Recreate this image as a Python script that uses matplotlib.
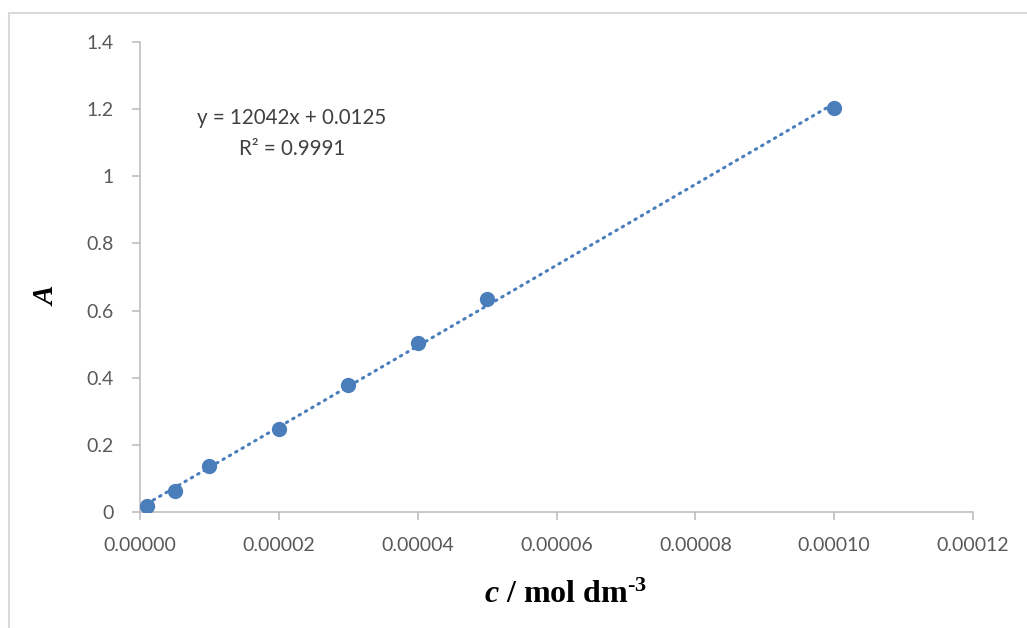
"""Calibration curve: absorbance vs concentration, Excel-style scatter with trendline."""
import matplotlib
matplotlib.use("Agg")
import matplotlib.pyplot as plt
from matplotlib.patches import Rectangle
import numpy as np

# Data
conc = [0.000001, 0.000005, 0.00001, 0.00002, 0.00003, 0.00004, 0.00005, 0.0001]
absorb = [0.018, 0.062, 0.136, 0.246, 0.378, 0.503, 0.634, 1.203]
x_ticks = [0.0, 0.00002, 0.00004, 0.00006, 0.00008, 0.00010, 0.00012]
y_ticks = [0, 0.2, 0.4, 0.6, 0.8, 1.0, 1.2, 1.4]
y_tick_labels = ["0", "0.2", "0.4", "0.6", "0.8", "1", "1.2", "1.4"]
slope, intercept, r2 = 12042, 0.0125, 0.9991

_BLUE = "#4a7ebb"
_AXIS = "#bfbfbf"
_TICK_TEXT = "#595959"
_SANS = ["Lato", "DejaVu Sans"]
_SERIF = ["Liberation Serif", "DejaVu Serif"]

plt.rcParams["mathtext.fontset"] = "custom"
plt.rcParams["mathtext.rm"] = "Liberation Serif:bold"
plt.rcParams["mathtext.it"] = "Liberation Serif:bold:italic"
plt.rcParams["mathtext.bf"] = "Liberation Serif:bold"

fig = plt.figure(figsize=(10.27, 6.28), dpi=100)
ax = fig.add_axes([140 / 1027, 1 - 512 / 628, (973 - 140) / 1027, (512 - 42) / 628])

# chart-area border (runs off the right and bottom edges)
fig.patches.append(Rectangle((8.5 / 1027, -0.05), 1.1, 1 - 12.5 / 628 + 0.05,
                             transform=fig.transFigure, fill=False,
                             edgecolor="#d9d9d9", linewidth=1.5))

# trendline over the data range
xs = np.array([min(conc), max(conc)])
ax.plot(xs, slope * xs + intercept, color=_BLUE, linewidth=2.2,
        linestyle=(0, (0.5, 1.9)), dash_capstyle="round", zorder=2)
ax.plot(conc, absorb, "o", color=_BLUE, markersize=11, zorder=3,
        markeredgewidth=0)

ax.set_xlim(0, 0.00012)
ax.set_ylim(0, 1.4)
ax.set_xticks(x_ticks)
ax.set_xticklabels([f"{v:.5f}" for v in x_ticks], family=_SANS,
                   fontsize=14, color=_TICK_TEXT)
ax.set_yticks(y_ticks)
ax.set_yticklabels(y_tick_labels, family=_SANS, fontsize=14, color=_TICK_TEXT)
ax.tick_params(axis="both", direction="out", length=6, width=1.2, color=_AXIS)
ax.tick_params(axis="x", pad=12)
ax.tick_params(axis="y", pad=13)

for side in ("top", "right"):
    ax.spines[side].set_visible(False)
for side in ("left", "bottom"):
    ax.spines[side].set_color(_AXIS)
    ax.spines[side].set_linewidth(1.2)

ax.text(292 / 1027, 1 - 118 / 628, f"y = {slope}x + {intercept}",
        transform=fig.transFigure, ha="center", va="center",
        family=_SANS, fontsize=14.8, color="#404040")
ax.text(292 / 1027, 1 - 149 / 628, f"R² = {r2}",
        transform=fig.transFigure, ha="center", va="center",
        family=_SANS, fontsize=14.8, color="#404040")

fig.text(47 / 1027, 1 - 296 / 628, "A", rotation=90, ha="center", va="center",
         family=_SERIF, fontsize=21, fontweight="bold", style="italic")
fig.text(566 / 1027, 1 - 595 / 628, r"$\mathit{c}$ / mol dm$^{\text{-3}}$",
         ha="center", va="center", family=_SERIF, fontsize=23,
         fontweight="bold")

fig.savefig("out.png", dpi=100, facecolor="white")
